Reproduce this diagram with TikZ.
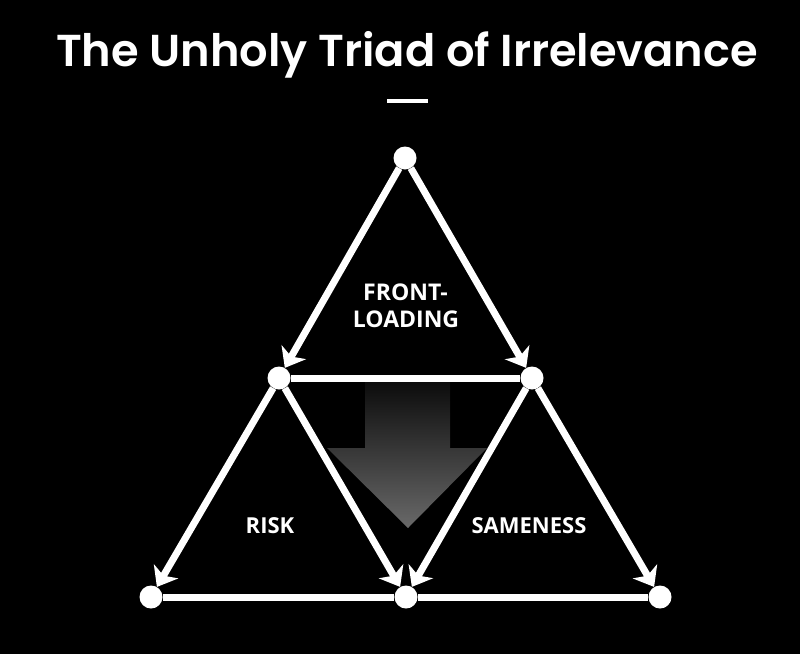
\documentclass[tikz,border=0pt]{standalone}
\usepackage{fontspec}
\setmainfont{Open Sans}
\newfontfamily\titlefont{Poppins SemiBold}
\usetikzlibrary{arrows.meta}
\begin{document}
\begin{tikzpicture}[x=1pt,y=-1pt,
  dot/.style={circle,fill=white,draw=none,minimum size=23pt,inner sep=0pt},
  edge/.style={draw=white,line width=7pt},
  arr/.style={edge,-{Stealth[length=18pt,width=28pt,inset=5pt]}},
  lbl/.style={text=white,font=\fontsize{22}{26}\selectfont\bfseries,anchor=base,inner sep=0pt}]
\fill[black] (0,0) rectangle (800,654);
\useasboundingbox (0,0) rectangle (800,654);
% title
\node[text=white,anchor=base,inner sep=0pt] (title) at (407,66)
  {\resizebox{702pt}{!}{\titlefont The Unholy Triad of Irrelevance}};
\fill[white] (387,99) rectangle (428,103);
% gradient arrow
\shade[top color={rgb,255:red,12;green,12;blue,12},bottom color={rgb,255:red,105;green,105;blue,105}]
  (365,382) -- (450,382) -- (450,448) -- (487,448) -- (408,528) -- (327,448) -- (365,448) -- cycle;
% dots
\node[dot] (t) at (405,158) {};
\node[dot] (ml) at (279,378) {};
\node[dot] (mr) at (532,378) {};
\node[dot] (bl) at (151,597) {};
\node[dot] (bm) at (406,597) {};
\node[dot] (br) at (660,597) {};
% connectors
\draw[arr] (t) -- (ml);
\draw[arr] (t) -- (mr);
\draw[edge] (ml) -- (mr);
\draw[arr] (ml) -- (bl);
\draw[arr] (ml) -- (bm);
\draw[arr] (mr) -- (bm);
\draw[arr] (mr) -- (br);
\draw[edge] (bl) -- (bm);
\draw[edge] (bm) -- (br);
% labels
\node[lbl,font=\fontsize{23}{27}\selectfont\bfseries] (f1) at (405.5,300) {FRONT-};
\node[lbl,font=\fontsize{23}{27}\selectfont\bfseries] (f2) at (406,327) {LOADING};
\node[lbl] (risk) at (270,533) {RISK};
\node[lbl] (same) at (529,533) {SAMENESS};
\end{tikzpicture}
\end{document}
